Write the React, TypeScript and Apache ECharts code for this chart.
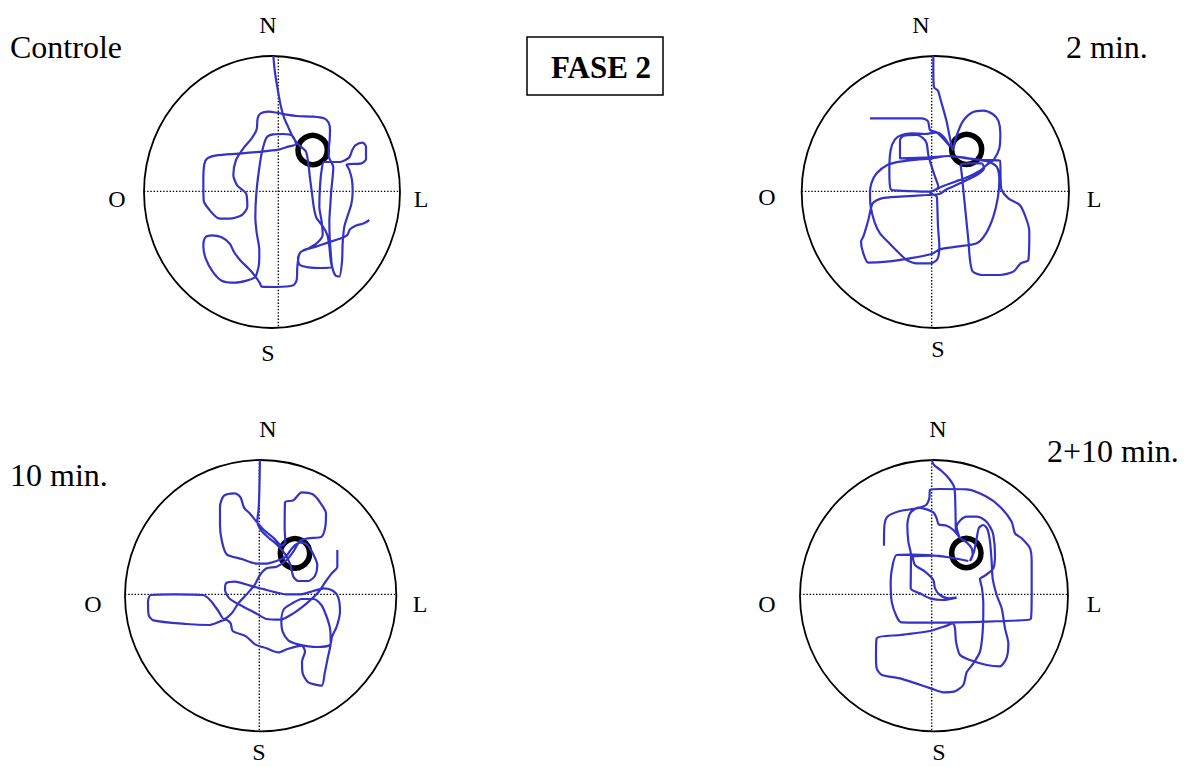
import React, { useEffect, useRef } from "react";
import * as echarts from "echarts";

// Coordinates are in a common tracking unit (3 units = 1 px of the figure).
const PANEL_TITLES = ["Controle", "2 min.", "10 min.", "2+10 min."];
const DIRECTIONS = ["N", "S", "O", "L"];
const HEADER = "FASE 2";

// pool ellipse: [cx, cy, rx, ry, crossX, crossY]
const POOL_1 = [396, 426, 384, 408, 415, 424];
const POOL_2 = [406, 426, 401, 408, 395, 424];
const POOL_3 = [422, 422, 407, 407, 418, 418];
const POOL_4 = [402, 422, 402, 407, 395, 418];

// platform: [cx, cy, r]
const PLATFORM_1 = [518, 300, 44];
const PLATFORM_2 = [500, 298, 45];
const PLATFORM_3 = [525, 295, 44];
const PLATFORM_4 = [499, 294, 44];

const PATH_1 = [
  [400,18],[404,60],[410,100],[417,140],[424,175],[433,205],[445,232],[457,258],[470,278],[485,292],[498,305],
  [505,340],[510,385],[516,430],[522,475],[530,505],[548,528],[562,555],[568,590],[572,630],[576,652],
  [545,654],[505,652],[480,645],[474,625],[482,606],[500,598],
  [530,580],[548,555],[545,515],[538,470],[540,410],[545,360],[552,336],
  [600,336],[628,322],[636,302],[646,286],[668,278],[678,290],[678,328],[664,340],[620,344],
  [628,360],[636,390],[638,425],[634,462],[624,494],[613,530],[608,580],[606,635],[598,680],[586,676],[576,648],[572,605],[569,560],[568,515],[571,465],[574,420],[578,380],[580,352],
  [566,318],[566,300],[569,270],[570,240],[566,218],[552,205],[520,200],[470,198],[440,194],[415,189],[385,185],[362,190],[353,205],[350,238],
  [335,265],[310,295],[288,330],[280,375],[292,407],[318,430],[322,470],[306,495],[268,506],[236,505],[207,478],[191,452],[190,390],[193,342],[202,325],
  [230,316],[295,311],[365,305],[415,299],[445,290],[468,283],
  [458,258],[430,252],[400,253],[380,262],[366,305],[357,360],[349,430],[346,500],[350,548],[358,600],[357,642],[350,672],
  [345,682],[320,692],[285,698],[245,692],[218,665],[197,625],[190,588],[196,562],[215,556],[245,562],[270,582],[282,606],[302,632],[328,658],[348,682],[360,700],
  [365,710],[410,711],[460,706],[470,690],[472,650],[478,612],[492,600],[528,590],[565,577],[603,565],[622,555],[630,538],[650,526],[672,520],[688,510]
];

const PATH_2 = [
  [400,18],[400,60],[402,112],[414,122],[422,150],[432,185],[440,215],[446,245],[452,275],[458,300],
  [468,262],[488,215],[515,188],[550,182],[578,192],[595,212],[601,250],[598,295],[582,328],[560,345],[540,362],
  [505,380],[465,395],[430,408],[405,420],[390,428],
  [410,440],[412,470],[414,530],[418,590],[412,628],[392,640],[350,640],[320,630],
  [300,612],[270,582],[240,550],[225,520],[212,470],[210,430],[214,400],[230,370],[262,345],[300,335],[350,329],[395,325],[445,318],[500,324],[545,330],[600,332],
  [602,390],[605,420],[625,445],[660,466],[680,510],[688,545],[685,630],[662,640],[640,665],[600,675],[545,675],[518,664],[510,630],[505,570],[498,500],[490,420],[485,370],[482,345],
  [510,340],[545,340],[552,355],[535,372],[480,400],[440,418],[418,432],
  [380,435],[300,440],[245,445],[218,460],[205,510],[190,560],[183,575],[190,610],[205,638],[260,635],[330,625],[395,612],[420,598],[470,590],[530,580],[558,550],[580,500],[594,440],[598,390],[590,350],[565,335],
  [500,325],[445,318],[385,322],[300,325],[300,270],[310,258],[350,255],[370,265],[380,280],[385,315],[395,350],[405,380],[415,410],
  [390,425],[350,424],[300,422],[272,418],[268,360],[272,300],[285,268],[305,255],[335,250],[375,252],[410,247],[432,262],[450,290],[438,275],[410,247],[390,240],[384,214],[365,205],[210,205]
];

const PATH_3 = [
  [420,15],[419,60],[418,110],[416,160],[412,200],[425,228],[448,250],[470,268],[488,288],[500,305],[512,332],[520,365],[535,378],[565,378],[585,362],[592,330],[580,298],[562,270],[545,262],[528,268],[512,285],[498,305],
  [480,314],[445,325],[410,326],[365,312],[320,298],[306,260],[300,210],[300,155],[312,122],[345,115],[362,128],[372,158],[390,176],[408,198],[432,225],[462,250],[485,272],
  [496,262],[494,220],[495,142],[520,136],[545,112],[578,118],[600,142],[618,175],[616,215],[605,245],[565,250],[540,258],[520,290],[500,315],
  [470,335],[440,340],[420,360],[405,388],[380,418],[355,445],[335,475],[312,492],
  [295,468],[272,437],[250,420],[160,418],[92,420],[84,440],[86,480],[100,496],[200,507],[268,510],[318,494],
  [332,505],[338,528],[378,544],[405,568],[440,580],[475,592],[502,582],[545,572],
  [555,590],[546,620],[548,655],[565,682],[605,692],[614,655],[624,605],[632,565],[630,520],[618,480],[604,450],[580,432],[545,432],[515,446],[492,462],[484,495],[488,530],[505,556],[535,568],[590,576],[630,570],
  [636,545],[650,515],[660,470],[655,428],[640,408],[612,400],[580,408],[540,418],[500,418],[440,405],[390,392],[345,380],[318,385],[315,405],[330,432],[370,455],[410,476],[440,492],[480,494],[520,475],[560,445],[595,412],[618,378],[635,355],[652,335],[652,285]
];

const PATH_4 = [
  [395,15],[402,30],[425,48],[448,72],[463,98],[466,150],[467,200],[468,228],[480,248],[500,262],[515,280],[518,300],[510,318],
  [522,290],[530,250],[537,218],[550,210],[562,222],[570,260],[575,320],[578,370],[590,420],[605,460],[615,520],[625,565],[620,608],[600,634],[560,630],[510,615],[480,600],[468,560],[465,520],[458,505],
  [440,512],[390,528],[300,540],[230,550],[228,600],[230,640],[246,660],[300,670],[350,686],[392,700],[430,712],[462,710],[490,690],[500,652],[520,625],[540,590],[548,530],[550,450],[546,400],[540,372],
  [555,362],[580,340],[585,300],[580,240],[570,215],[555,196],[530,185],[500,185],[482,195],[470,215],[478,246],[460,225],[440,212],[416,208],[410,190],[400,172],[380,163],[355,158],
  [330,175],[322,210],[325,260],[333,300],[332,400],[360,415],[390,430],[430,435],[470,428],[445,430],[420,420],[405,400],[400,375],[375,350],[345,330],[338,305],[400,302],[440,306],[505,318],[440,306],[340,299],
  [290,300],[278,330],[272,380],[275,440],[290,485],[305,502],[420,503],[560,500],[680,495],[693,490],[695,420],[695,320],[690,280],[665,250],[645,235],[635,200],[600,155],[560,125],[500,103],[420,102],[390,105],[388,130],[378,150],[350,160],[300,168],[262,185],[253,215],[252,272]
];

const POOLS = [POOL_1, POOL_2, POOL_3, POOL_4];
const PLATFORMS = [PLATFORM_1, PLATFORM_2, PLATFORM_3, PLATFORM_4];
const PATHS = [PATH_1, PATH_2, PATH_3, PATH_4];

// layout (pixels)
const GRID_POS = [
  { left: 140, top: 50 },
  { left: 800, top: 50 },
  { left: 120, top: 455 },
  { left: 800, top: 455 },
];
const TITLE_POS = [
  { x: 10, y: 47 },
  { x: 1066, y: 47 },
  { x: 10, y: 475 },
  { x: 1047, y: 451 },
];
// N, S, O, L positions per panel
const DIR_POS = [
  [[268, 25], [268, 353], [117, 199], [421, 199]],
  [[921, 25], [938, 349], [767, 197], [1094, 199]],
  [[268, 429], [259, 752], [93, 604], [420, 604]],
  [[938, 429], [939, 752], [767, 604], [1094, 604]],
];

const FONT_FAMILY = '"Liberation Serif", "Times New Roman", Times, serif';
const BLUE = "#3333c8";

export default function App() {
  const ref = useRef<HTMLDivElement>(null);
  useEffect(() => {
    if (!ref.current) return;
    const chart = echarts.init(ref.current, undefined, { renderer: "svg" });

    const grid = GRID_POS.map((g) => ({ left: g.left, top: g.top, width: 280, height: 285 }));
    const xAxis = GRID_POS.map((_, i) => ({ type: "value", gridIndex: i, min: 0, max: 840, show: false }));
    const yAxis = GRID_POS.map((_, i) => ({ type: "value", gridIndex: i, min: 0, max: 855, inverse: true, show: false }));

    const series: any[] = [];
    for (let i = 0; i < 4; i++) {
      series.push({
        type: "custom",
        xAxisIndex: i,
        yAxisIndex: i,
        z: 1,
        silent: true,
        clip: false,
        data: [POOLS[i]],
        renderItem: (_p: any, api: any) => {
          const cx = api.value(0), cy = api.value(1), rx = api.value(2), ry = api.value(3);
          const vx = api.value(4), hy = api.value(5);
          const c = api.coord([cx, cy]);
          const e = api.coord([cx + rx, cy + ry]);
          const prx = Math.abs(e[0] - c[0]);
          const pry = Math.abs(e[1] - c[1]);
          const dyv = ry * Math.sqrt(Math.max(0, 1 - ((vx - cx) / rx) ** 2));
          const dxh = rx * Math.sqrt(Math.max(0, 1 - ((hy - cy) / ry) ** 2));
          const v1 = api.coord([vx, cy - dyv]);
          const v2 = api.coord([vx, cy + dyv]);
          const h1 = api.coord([cx - dxh, hy]);
          const h2 = api.coord([cx + dxh, hy]);
          const dash = { stroke: "#000", lineWidth: 1.4, lineDash: [1.4, 1.8], fill: null };
          return {
            type: "group",
            children: [
              { type: "line", shape: { x1: v1[0], y1: v1[1], x2: v2[0], y2: v2[1] }, style: dash },
              { type: "line", shape: { x1: h1[0], y1: h1[1], x2: h2[0], y2: h2[1] }, style: dash },
              {
                type: "ellipse",
                shape: { cx: c[0], cy: c[1], rx: prx, ry: pry },
                style: { fill: "none", stroke: "#000", lineWidth: 1.8 },
              },
            ],
          };
        },
      });
      series.push({
        type: "custom",
        xAxisIndex: i,
        yAxisIndex: i,
        z: 2,
        silent: true,
        clip: false,
        data: [PLATFORMS[i]],
        renderItem: (_p: any, api: any) => {
          const c = api.coord([api.value(0), api.value(1)]);
          const e = api.coord([api.value(0) + api.value(2), api.value(1)]);
          return {
            type: "circle",
            shape: { cx: c[0], cy: c[1], r: Math.abs(e[0] - c[0]) },
            style: { fill: "none", stroke: "#000", lineWidth: 5.5 },
          };
        },
      });
      series.push({
        type: "line",
        xAxisIndex: i,
        yAxisIndex: i,
        z: 3,
        silent: true,
        data: PATHS[i],
        showSymbol: false,
        symbol: "none",
        smooth: 0.25,
        lineStyle: { color: BLUE, width: 2.2 },
      });
    }

    const graphic: any[] = [];
    PANEL_TITLES.forEach((t, i) => {
      graphic.push({
        type: "text",
        x: TITLE_POS[i].x,
        y: TITLE_POS[i].y,
        style: {
          text: t,
          font: `normal 400 32px ${FONT_FAMILY}`,
          fill: "#000",
          align: "left",
          verticalAlign: "middle",
        },
      });
    });
    DIR_POS.forEach((panel) => {
      panel.forEach((p, j) => {
        graphic.push({
          type: "text",
          x: p[0],
          y: p[1],
          style: {
            text: DIRECTIONS[j],
            font: `normal 400 24px ${FONT_FAMILY}`,
            fill: "#000",
            align: "center",
            verticalAlign: "middle",
          },
        });
      });
    });
    graphic.push({
      type: "rect",
      shape: { x: 527, y: 37, width: 136, height: 58 },
      style: { fill: "#fff", stroke: "#000", lineWidth: 1.5 },
    });
    graphic.push({
      type: "text",
      x: 601,
      y: 67,
      style: {
        text: HEADER,
        font: `normal bold 31px ${FONT_FAMILY}`,
        fill: "#000",
        align: "center",
        verticalAlign: "middle",
      },
    });

    chart.setOption({
      animation: false,
      backgroundColor: "#fff",
      grid,
      xAxis,
      yAxis,
      series,
      graphic,
    });
    return () => chart.dispose();
  }, []);
  return (
    <div
      ref={ref}
      style={{ position: "fixed", left: 0, top: 0, width: 1186, height: 767, background: "#fff" }}
    />
  );
}
